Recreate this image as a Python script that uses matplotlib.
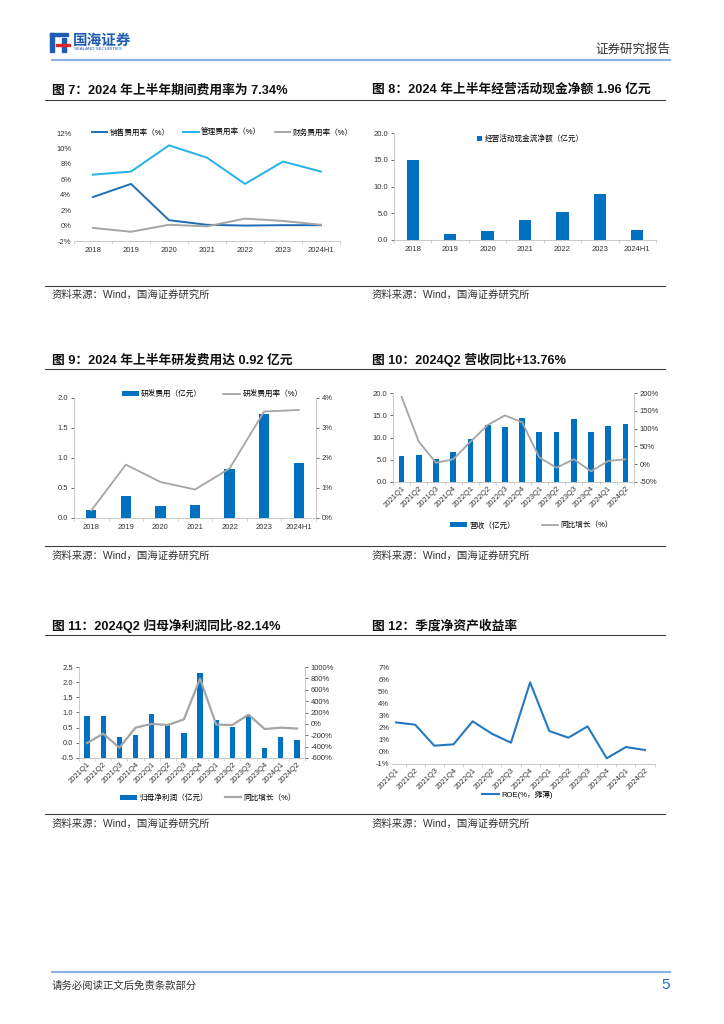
import numpy as np
import matplotlib
matplotlib.use('Agg')
import matplotlib.pyplot as plt
from matplotlib.lines import Line2D
from matplotlib.patches import Rectangle
from matplotlib.ticker import FuncFormatter

plt.rcParams['font.family'] = ['Liberation Sans', 'Noto Sans CJK SC', 'DejaVu Sans']
plt.rcParams['axes.unicode_minus'] = False

# ---- data ----
years = ['2018', '2019', '2020', '2021', '2022', '2023', '2024H1']
sales_rate = [3.7, 5.4, 0.7, 0.1, 0.0, 0.05, 0.05]
admin_rate = [6.6, 7.0, 10.4, 8.8, 5.4, 8.3, 7.0]
fin_rate = [-0.3, -0.8, 0.1, -0.1, 0.9, 0.6, 0.1]

op_cash = [15.0, 1.2, 1.6, 3.7, 5.3, 8.6, 1.96]

rd_cost = [0.14, 0.37, 0.20, 0.22, 0.82, 1.74, 0.92]
rd_rate = [0.25, 1.78, 1.2, 0.95, 1.65, 3.55, 3.6]

quarters = ['2021Q1', '2021Q2', '2021Q3', '2021Q4', '2022Q1', '2022Q2', '2022Q3',
            '2022Q4', '2023Q1', '2023Q2', '2023Q3', '2023Q4', '2024Q1', '2024Q2']
revenue = [5.9, 6.0, 5.1, 6.7, 9.6, 12.7, 12.3, 14.4, 11.3, 11.3, 14.1, 11.3, 12.5, 13.1]
rev_yoy = [189, 63, 4, 14, 63, 110, 137, 118, 19, -10, 14, -20, 9, 13.76]

net_profit = [0.87, 0.87, 0.18, 0.25, 0.96, 0.58, 0.31, 2.30, 0.74, 0.51, 0.91, -0.17, 0.18, 0.08]
np_yoy = [-337, -172, -419, -67, 0, -20, 80, 795, -14, -20, 162, -90, -67, -82.14]

roe = [2.43, 2.24, 0.51, 0.62, 2.52, 1.5, 0.76, 5.73, 1.72, 1.17, 2.1, -0.53, 0.4, 0.15]

BLUE = '#0070C0'
GRAY = '#A5A5A5'
W, H = 724, 1024

fig = plt.figure(figsize=(7.24, 10.24), dpi=100)


def box(x0, y0, x1, y1):
    return [x0 / W, 1 - y1 / H, (x1 - x0) / W, (y1 - y0) / H]


def hline(x0, x1, y, color='#404040', lw=0.8):
    fig.add_artist(Line2D([x0 / W, x1 / W], [1 - y / H] * 2, color=color, lw=lw,
                          transform=fig.transFigure))


def txt(x, y, s, **kw):
    fig.text(x / W, 1 - y / H, s, va='center', **kw)


def style(ax, n):
    for s in ['top', 'right']:
        ax.spines[s].set_visible(False)
    for s in ['left', 'bottom']:
        ax.spines[s].set_color('#BFBFBF')
        ax.spines[s].set_linewidth(0.6)
    ax.tick_params(labelsize=5.5, colors='#333333', length=2, width=0.5, pad=2)
    ax.tick_params(axis='x', length=0, pad=4)
    ax.set_xticks(np.arange(-0.5, n, 1), minor=True)
    ax.tick_params(axis='x', which='minor', length=2.5, width=0.5, color='#BFBFBF')
    ax.set_xlim(-0.5, n - 0.5)


def style_right(ax2):
    for s in ['top', 'left', 'bottom']:
        ax2.spines[s].set_visible(False)
    ax2.spines['right'].set_color('#BFBFBF')
    ax2.spines['right'].set_linewidth(0.6)
    ax2.tick_params(labelsize=5.5, colors='#333333', length=2, width=0.5, pad=2)


pct = FuncFormatter(lambda v, p: '%d%%' % round(v))
one = FuncFormatter(lambda v, p: '%.1f' % v)
leg_kw = dict(frameon=False, fontsize=5.5, handletextpad=0.3, borderpad=0, borderaxespad=0)

# ---- header / footer ----
fig.add_artist(Rectangle((50 / W, 1 - 52 / H), 4 / W, 19 / H, color='#1F5DB5', transform=fig.transFigure))
fig.add_artist(Rectangle((50 / W, 1 - 36 / H), 18 / W, 3 / H, color='#1F5DB5', transform=fig.transFigure))
fig.add_artist(Rectangle((62 / W, 1 - 52 / H), 4 / W, 14 / H, color='#1F5DB5', transform=fig.transFigure))
fig.add_artist(Rectangle((56 / W, 1 - 46 / H), 14 / W, 2.5 / H, color='#E0262B', transform=fig.transFigure))
txt(73, 41, '国海证券', fontsize=10.5, fontweight='bold', color='#1F5DB5')
txt(74, 49.5, 'SEALAND SECURITIES', fontsize=3.2, color='#1F5DB5')
txt(670, 50, '证券研究报告', fontsize=9, color='#333333', ha='right')
hline(52, 670, 60, color='#8DB3E2', lw=1.6)
hline(52, 670, 972, color='#8DB3E2', lw=1.6)
txt(52, 986, '请务必阅读正文后免责条款部分', fontsize=7.5, color='#333333')
txt(670, 985, '5', fontsize=11, color='#1F6FD0', ha='right')

# ---- titles, rules, sources ----
rows = [(90, 100, 286, 295), (360, 369, 546, 556), (626, 635, 814, 824)]
titles = [('图 7：2024 年上半年期间费用率为 7.34%', '图 8：2024 年上半年经营活动现金净额 1.96 亿元'),
          ('图 9：2024 年上半年研发费用达 0.92 亿元', '图 10：2024Q2 营收同比+13.76%'),
          ('图 11：2024Q2 归母净利润同比-82.14%', '图 12：季度净资产收益率')]
for (ty, ly, sy, st), (t1, t2) in zip(rows, titles):
    txt(52, ty, t1, fontsize=9.2, fontweight='bold', color='#111111')
    txt(372, ty, t2, fontsize=9.2, fontweight='bold', color='#111111')
    hline(45, 665, ly)
    hline(45, 665, sy)
    txt(52, st, '资料来源：Wind，国海证券研究所', fontsize=7.5, color='#333333')
    txt(372, st, '资料来源：Wind，国海证券研究所', fontsize=7.5, color='#333333')

# ---- chart 7 ----
ax = fig.add_axes(box(74, 133, 340, 241))
x = np.arange(len(years))
ax.plot(x, sales_rate, color='#1F6EB5', lw=1.4, label='销售费用率（%）')
ax.plot(x, admin_rate, color='#23B2E8', lw=1.4, label='管理费用率（%）')
ax.plot(x, fin_rate, color=GRAY, lw=1.4, label='财务费用率（%）')
ax.set_ylim(-2, 12)
ax.set_yticks(np.arange(-2, 13, 2))
ax.yaxis.set_major_formatter(pct)
ax.set_xticks(x)
ax.set_xticklabels(years)
style(ax, len(years))
ax.spines['left'].set_visible(False)
ax.tick_params(axis='y', length=0)
ax.legend(loc='center left', bbox_to_anchor=((92 - 74) / 266, 1.0), ncol=3,
          handlelength=2.0, columnspacing=1.8, **leg_kw)

# ---- chart 8 ----
ax = fig.add_axes(box(394, 133, 656, 240))
ax.bar(x, op_cash, width=0.33, color=BLUE, label='经营活动现金流净额（亿元）')
ax.set_ylim(0, 20)
ax.set_yticks(np.arange(0, 21, 5))
ax.yaxis.set_major_formatter(one)
ax.set_xticks(x)
ax.set_xticklabels(years)
style(ax, len(years))
ax.legend(loc='center left', bbox_to_anchor=((477 - 394) / 262, 0.94),
          handlelength=0.7, handleheight=0.7, **leg_kw)

# ---- chart 9 ----
ax = fig.add_axes(box(74, 398, 316, 518))
b = ax.bar(x, rd_cost, width=0.3, color=BLUE)
ax.set_ylim(0, 2)
ax.set_yticks(np.arange(0, 2.01, 0.5))
ax.yaxis.set_major_formatter(one)
ax.set_xticks(x)
ax.set_xticklabels(years)
style(ax, len(years))
ax2 = ax.twinx()
l, = ax2.plot(x, rd_rate, color=GRAY, lw=1.3)
ax2.set_ylim(0, 4)
ax2.set_yticks(np.arange(0, 5, 1))
ax2.yaxis.set_major_formatter(pct)
style_right(ax2)
ax.legend([b, l], ['研发费用（亿元）', '研发费用率（%）'], loc='center left',
          bbox_to_anchor=((122 - 74) / 242, 1.03), ncol=2, handlelength=2.2,
          columnspacing=2.8, **leg_kw)

# ---- chart 10 ----
q = np.arange(len(quarters))
ax = fig.add_axes(box(393, 393, 634, 482))
b = ax.bar(q, revenue, width=0.33, color=BLUE)
ax.set_ylim(0, 20)
ax.set_yticks(np.arange(0, 21, 5))
ax.yaxis.set_major_formatter(one)
ax.set_xticks(q)
ax.set_xticklabels(quarters, rotation=45, ha='right', rotation_mode='anchor', fontsize=5)
style(ax, len(quarters))
ax.tick_params(axis='x', pad=2)
ax2 = ax.twinx()
l, = ax2.plot(q, rev_yoy, color=GRAY, lw=1.3)
ax2.set_ylim(-50, 200)
ax2.set_yticks(np.arange(-50, 201, 50))
ax2.yaxis.set_major_formatter(pct)
style_right(ax2)
ax.legend([b, l], ['营收（亿元）', '同比增长（%）'], loc='center left',
          bbox_to_anchor=((450 - 393) / 241, -0.49), ncol=2, handlelength=2.2,
          columnspacing=3.5, **leg_kw)

# ---- chart 11 ----
ax = fig.add_axes(box(79, 667, 305, 758))
base = -0.5
b = ax.bar(q, np.array(net_profit) - base, bottom=base, width=0.33, color=BLUE)
ax.set_ylim(-0.5, 2.5)
ax.set_yticks(np.arange(-0.5, 2.51, 0.5))
ax.yaxis.set_major_formatter(one)
ax.set_xticks(q)
ax.set_xticklabels(quarters, rotation=45, ha='right', rotation_mode='anchor', fontsize=5)
style(ax, len(quarters))
ax.tick_params(axis='x', pad=2)
ax2 = ax.twinx()
l, = ax2.plot(q, np_yoy, color=GRAY, lw=1.6)
ax2.set_ylim(-600, 1000)
ax2.set_yticks(np.arange(-600, 1001, 200))
ax2.yaxis.set_major_formatter(pct)
style_right(ax2)
ax.legend([b, l], ['归母净利润（亿元）', '同比增长（%）'], loc='center left',
          bbox_to_anchor=((120 - 79) / 226, -0.44), ncol=2, handlelength=2.2,
          columnspacing=2.2, **leg_kw)

# ---- chart 12 ----
ax = fig.add_axes(box(392, 667, 655, 764))
ax.plot(q, roe, color='#2478C0', lw=1.5, label='ROE(%，摊薄)')
ax.set_ylim(-1, 7)
ax.set_yticks(np.arange(-1, 8, 1))
ax.yaxis.set_major_formatter(pct)
ax.set_xticks(q)
ax.set_xticklabels(quarters, rotation=45, ha='right', rotation_mode='anchor', fontsize=5)
style(ax, len(quarters))
ax.set_xlim(-0.21, 13.52)
ax.tick_params(axis='x', pad=2)
ax.spines['left'].set_visible(False)
ax.tick_params(axis='y', length=0)
ax.legend(loc='center left', bbox_to_anchor=((482 - 392) / 263, -0.32),
          handlelength=2.2, **leg_kw)

fig.savefig('out.png', dpi=100)
